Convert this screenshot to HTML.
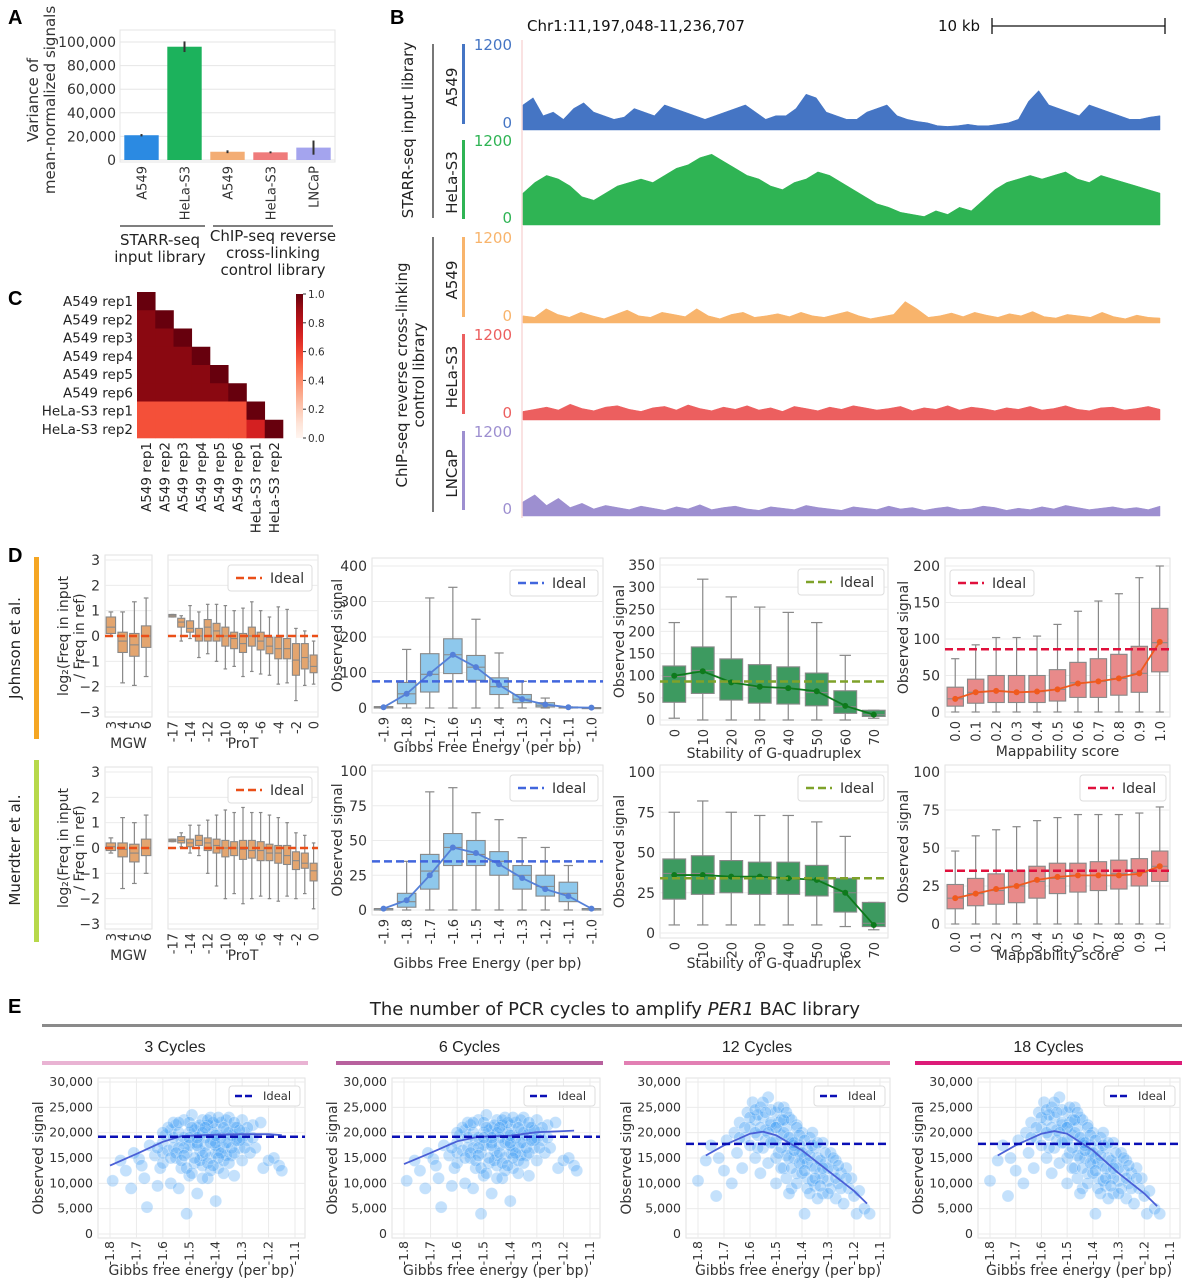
<!DOCTYPE html>
<html><head><meta charset="utf-8">
<style>
html,body{margin:0;padding:0;background:#fff;}
svg{display:block;font-family:"DejaVu Sans","Liberation Sans",sans-serif;}
</style></head>
<body>
<svg id="fig" width="1188" height="1280" viewBox="0 0 1188 1280" xmlns="http://www.w3.org/2000/svg"></svg>
<script>
// ---------- DATA ----------
// Panel A
const aCats = ["A549","HeLa-S3","A549","HeLa-S3","LNCaP"];
const aVals = [21000,96000,7000,6500,10500];
const aErr = [1000,4500,1200,800,6000];
const aTicks = [0,20000,40000,60000,80000,100000];
const aTickLabels = ["0","20,000","40,000","60,000","80,000","100,000"];
// Panel B
const trkBlue = [350,450,200,250,150,300,380,250,200,150,180,300,250,200,350,300,250,200,150,200,250,300,350,250,150,200,200,300,500,450,250,200,150,150,250,300,350,200,150,120,100,60,50,60,80,60,60,80,100,150,400,550,350,300,250,200,350,300,250,200,150,150,180,200];
const trkGreen = [450,600,700,650,550,400,350,450,550,600,650,600,700,800,850,950,1000,900,800,700,650,550,500,600,650,750,700,600,500,400,300,250,180,150,120,200,150,250,200,350,500,600,650,700,650,700,750,650,600,700,650,600,550,500,450];
const trkOrange = [100,80,200,120,80,150,100,60,120,180,100,80,150,120,90,200,100,60,120,150,80,100,130,90,150,100,80,120,160,100,60,90,120,300,200,80,100,140,90,150,110,80,130,100,160,90,70,120,100,80,150,90,60,110,80,70];
const trkRed = [120,150,180,140,220,160,130,180,200,150,120,170,190,140,210,160,130,180,150,200,140,170,120,190,160,130,180,150,200,170,140,160,190,130,170,150,200,140,180,160,130,170,150,190,140,160,200,150,130,170,180,140,160,190,150];
const trkPurple = [200,300,150,250,120,180,100,150,120,90,140,110,80,130,100,160,90,120,140,100,80,130,110,90,150,120,100,80,130,110,90,140,100,120,80,110,130,90,100,140,120,80,110,90,130,100,150,120,90,110,130,100,120,90,140];
// Panel C
const hmLabels = ["A549 rep1","A549 rep2","A549 rep3","A549 rep4","A549 rep5","A549 rep6","HeLa-S3 rep1","HeLa-S3 rep2"];
const hmA549 = 0.93, hmCross = 0.57, hmHela = 0.72;
// Panel D - row 1
const mgw1 = {q1:[0.1,-0.65,-0.8,-0.45],med:[0.35,-0.2,-0.35,0],q3:[0.75,0.15,0.1,0.4],lo:[0,-1.85,-1.95,-1.6],hi:[0.95,0.95,1.35,1.5]};
const prot1 = {q1:[0.75,0.35,0.15,-0.2,-0.2,-0.2,-0.4,-0.5,-0.65,-0.4,-0.55,-0.7,-0.9,-0.9,-1.55,-1.3,-1.45],med:[0.8,0.55,0.3,0,0.35,0.2,0,-0.1,-0.3,0,-0.2,-0.4,-0.5,-0.5,-0.95,-0.85,-1.2],q3:[0.85,0.7,0.6,0.3,0.65,0.5,0.35,0.15,0.1,0.35,0.15,-0.05,-0.05,-0.1,-0.3,-0.3,-0.75],lo:[0.75,-0.2,-0.1,-0.85,-0.7,-1.0,-1.3,-1.2,-1.6,-1.4,-1.5,-1.55,-1.9,-1.85,-2.55,-1.95,-1.9],hi:[0.85,0.8,1.2,0.95,1.25,1.25,1.2,1.0,1.1,1.35,1.0,0.75,1.15,1.05,0.3,0.2,-0.2]};
const gibbs1 = {q1:[0,12,45,97,78,38,15,3,0,0],med:[2,40,95,150,115,60,25,8,2,1],q3:[4,72,153,195,148,85,38,15,3,1],lo:[0,0,0,0,0,0,0,0,0,0],hi:[4,165,310,340,250,155,75,28,3,1],mean:[2,40,97,150,115,65,25,10,2,1]};
const g4_1 = {q1:[40,60,45,38,36,32,15,8],med:[98,112,85,75,70,62,30,12],q3:[122,165,138,125,120,106,66,22],lo:[4,0,0,0,0,0,0,4],hi:[220,318,278,255,243,220,146,22],mean:[100,110,85,75,72,65,32,12]};
const map1 = {q1:[8,12,13,13,13,15,20,20,23,27,55],med:[18,27,29,27,28,31,40,42,46,53,95],q3:[34,45,50,50,50,58,68,73,79,90,142],lo:[0,0,0,0,0,0,0,0,0,0,0],hi:[73,92,102,102,104,120,138,152,162,184,200],mean:[18,27,29,27,28,31,39,42,46,53,96]};
// Panel D - row 2
const mgw2 = {q1:[-0.1,-0.35,-0.55,-0.3],med:[0.05,-0.05,-0.2,0],q3:[0.2,0.2,0.15,0.35],lo:[-0.2,-1.6,-1.4,-1.0],hi:[0.4,1.2,1.0,1.3]};
const prot2 = {q1:[0.25,0.2,0.05,0.1,-0.1,-0.2,-0.35,-0.3,-0.45,-0.4,-0.5,-0.5,-0.6,-0.65,-0.85,-0.8,-1.3],med:[0.3,0.3,0.2,0.3,0.2,0.1,0,0,-0.05,-0.1,-0.1,-0.2,-0.2,-0.3,-0.5,-0.6,-0.9],q3:[0.35,0.45,0.35,0.5,0.4,0.35,0.3,0.25,0.3,0.3,0.25,0.15,0.1,0.1,-0.15,-0.2,-0.6],lo:[0.25,0.05,-0.2,-0.3,-1.0,-1.5,-2.0,-1.8,-2.2,-2.0,-1.9,-2.0,-2.1,-1.9,-2.0,-1.8,-2.4],hi:[0.35,0.6,0.9,0.9,1.1,1.3,1.5,1.4,1.6,1.4,1.4,1.3,1.2,1.0,0.6,0.5,0.2]};
const gibbs2 = {q1:[0,2,15,32,32,25,15,10,6,0],med:[1,6,28,45,40,35,25,17,12,1],q3:[1,12,40,55,50,42,32,25,20,1],lo:[0,0,0,0,0,0,0,0,0,0],hi:[1,35,85,88,70,65,52,45,32,1],mean:[1,7,25,45,41,33,23,15,10,1]};
const g4_2 = {q1:[21,24,25,24,24,23,13,4],med:[37,37,35,35,34,33,25,6],q3:[46,48,45,44,44,42,34,19],lo:[5,5,5,5,5,5,4,2],hi:[75,82,75,73,73,69,60,19],mean:[36,36,35,35,34,33,25,5]};
const map2 = {q1:[10,12,13,14,17,20,21,22,23,25,28],med:[17,20,22,25,28,30,32,32,33,34,38],q3:[26,30,33,35,38,40,40,41,42,43,48],lo:[0,0,0,0,0,0,0,0,0,0,0],hi:[48,58,62,64,68,70,72,72,72,73,77],mean:[17,20,23,25,29,31,32,32,32,33,38]};
const mgwCats = ["3","4","5","6"];
const protCats = ["-17","","-14","","-12","","-10","","-8","","-6","","-4","","-2","","0"];
const gibbsCats = ["-1.9","-1.8","-1.7","-1.6","-1.5","-1.4","-1.3","-1.2","-1.1","-1.0"];
const g4Cats = ["0","10","20","30","40","50","60","70"];
const mapCats = ["0.0","0.1","0.2","0.3","0.4","0.5","0.6","0.7","0.8","0.9","1.0"];
const idealRow1 = {prot:0, gibbs:75, g4:87, map:86};
const idealRow2 = {prot:0, gibbs:35, g4:34, map:35};
// Panel E
const scAx = [-1.79,-1.76,-1.74,-1.72,-1.71,-1.69,-1.68,-1.67,-1.66,-1.65,-1.63,-1.62,-1.61,-1.6,-1.6,-1.59,-1.58,-1.57,-1.57,-1.56,-1.55,-1.55,-1.54,-1.53,-1.53,-1.52,-1.51,-1.51,-1.5,-1.5,-1.49,-1.49,-1.48,-1.47,-1.47,-1.46,-1.46,-1.45,-1.45,-1.44,-1.43,-1.43,-1.42,-1.42,-1.41,-1.4,-1.4,-1.4,-1.39,-1.39,-1.38,-1.37,-1.37,-1.36,-1.35,-1.35,-1.34,-1.33,-1.33,-1.32,-1.31,-1.3,-1.3,-1.29,-1.28,-1.27,-1.26,-1.25,-1.23,-1.22,-1.2,-1.18,-1.16,-1.15,-1.52,-1.48,-1.44,-1.41,-1.38,-1.34,-1.46,-1.42,-1.36,-1.5,-1.56,-1.54,-1.47,-1.43,-1.39,-1.35,-1.31,-1.45,-1.4,
 -1.58,-1.56,-1.54,-1.52,-1.5,-1.48,-1.46,-1.44,-1.42,-1.4,-1.38,-1.36,-1.34,-1.32,-1.3,-1.28,-1.26,-1.55,-1.53,-1.51,-1.49,-1.47,-1.45,-1.43,-1.41,-1.39,-1.37,-1.35,-1.33,-1.31,-1.6,-1.62,-1.57,-1.45,-1.41,-1.37,-1.49,-1.43,-1.39,-1.33,-1.52,-1.47,-1.44,-1.4,-1.36,-1.32,-1.29,-1.54,-1.6,-1.5];
const scAy = [10.5,14.5,12.5,9,16,14.8,13.5,11,5.3,17.5,15.5,9.5,13,18,14,19.5,16.5,10,20.5,17,15,21.5,9,18.5,13,22.5,4,16,20,11.5,23.5,18,14,21,8,16.5,19.5,13.5,22.5,17.5,20.5,11,15,23,18.5,21.5,6.5,16,13,19.5,22,17,14.5,20.5,18,23,15.5,21,11.5,19,17,22.5,14.5,20,18.5,16,21.5,17,22,13,14.5,15,13.5,12.5,19,20.5,19,20,19,19.5,14.5,12.5,15.5,17.5,19,17,18,21.5,16.5,20,18.5,15.5,17.5,
 21,22,20,17,22,15,21.5,16,18,18,16,22.5,17,21,19,21,19,16,14.5,13,12,17.5,20,14,22,15,21,14,16,20.5,16,17,15,11,13.5,12,21,22.5,23,22,15.5,19,21,19.5,18,18.5,17,22,20,19];
const scBx = [-1.8,-1.77,-1.75,-1.73,-1.72,-1.7,-1.69,-1.67,-1.66,-1.65,-1.64,-1.63,-1.62,-1.61,-1.6,-1.6,-1.59,-1.58,-1.58,-1.57,-1.56,-1.56,-1.55,-1.55,-1.54,-1.53,-1.53,-1.52,-1.51,-1.5,-1.5,-1.49,-1.49,-1.48,-1.47,-1.47,-1.46,-1.45,-1.45,-1.44,-1.44,-1.43,-1.42,-1.42,-1.41,-1.4,-1.4,-1.39,-1.38,-1.38,-1.37,-1.36,-1.35,-1.35,-1.34,-1.33,-1.32,-1.32,-1.31,-1.3,-1.29,-1.28,-1.27,-1.27,-1.26,-1.25,-1.24,-1.23,-1.22,-1.21,-1.2,-1.19,-1.18,-1.16,-1.14,-1.52,-1.48,-1.44,-1.54,-1.46,-1.41,-1.36,-1.5,-1.57,-1.43,-1.39,
 -1.6,-1.58,-1.56,-1.55,-1.54,-1.52,-1.5,-1.49,-1.47,-1.46,-1.45,-1.44,-1.43,-1.42,-1.41,-1.4,-1.39,-1.38,-1.37,-1.36,-1.35,-1.34,-1.33,-1.32,-1.31,-1.3,-1.29,-1.28,-1.27,-1.26,-1.5,-1.48,-1.46,-1.44,-1.42,-1.4,-1.38,-1.36,-1.34,-1.32,-1.48,-1.45,-1.43,-1.41,-1.39,-1.37,-1.35,-1.3,-1.57,-1.53,-1.52,-1.62,-1.64,-1.58,-1.5,-1.47,-1.33,-1.25,-1.23,-1.45];
const scBy = [10.5,14.5,17.5,7.5,15,12.5,18.5,10,20,16,22,13,19,24,17.5,21,26,15,22.5,19.5,25,12,23,17,20.5,27,14,21.5,18,24,10,22,16,19.5,25,13,21,17,23,9,19,15,21.5,12,17.5,20,14,4,16.5,11,19,13.5,17,9.5,15,12,18,8,14,10.5,16,12.5,7,14.5,10,12,6,13,9,11,7.5,4,8.5,5,4,24.5,22.5,18,18.5,15.5,16,20,21,23.5,17.5,15,
 23,24.5,21,26,24,22,21,25,20,24,19,22.5,18,21,19.5,16,18.5,14,15.5,17.5,13,18,14.5,11,16,13,9,15,11,13.5,15,13,11,13,10,12,9,10.5,7,13,17,15,16.5,14,12.5,8,11,8,17,20,18,21,19,20,18.5,22.5,9.5,9,11,8];
const trendX1 = [-1.8,-1.7,-1.6,-1.53,-1.4,-1.3,-1.2,-1.15];
const trendY1 = [13.5,15.8,18.2,19.3,19.6,19.7,19.7,19.5];
const trendX2 = [-1.8,-1.7,-1.6,-1.52,-1.4,-1.3,-1.2,-1.16];
const trendY2 = [13.8,16,18.3,19.2,19.4,20.1,20.3,20.4];
const trendX3 = [-1.77,-1.7,-1.6,-1.55,-1.5,-1.4,-1.3,-1.2,-1.15];
const trendY3 = [15.5,17.5,19.8,20.2,19.5,16.5,12.5,8.5,6];
const trendY4 = [15.5,17.5,19.8,20.3,19.8,16.5,12,8,5.5];
const eIdeal = [19200,19200,17800,17800];
const eTicks = [0,5000,10000,15000,20000,25000,30000];
const eTickLabels = ["0","5,000","10,000","15,000","20,000","25,000","30,000"];
const eXTicks = [-1.8,-1.7,-1.6,-1.5,-1.4,-1.3,-1.2,-1.1];

// ---------- HELPERS ----------
const NS = "http://www.w3.org/2000/svg";
const svg = document.getElementById('fig');
function mk(tag, attrs, parent){const e=document.createElementNS(NS,tag);for(const k in attrs)e.setAttribute(k,attrs[k]);(parent||svg).appendChild(e);return e;}
function lin(d0,d1,r0,r1){return v=>r0+(v-d0)/(d1-d0)*(r1-r0);}
function T(str,x,y,o,parent){o=o||{};const a={x:x,y:y,'font-size':o.fs||13,fill:o.fill||'#333','text-anchor':o.anchor||'start','dominant-baseline':o.base||'auto'};
 if(o.rot!==undefined)a.transform='rotate('+o.rot+' '+x+' '+y+')';
 if(o.weight)a['font-weight']=o.weight; if(o.family)a['font-family']=o.family; if(o.style)a['font-style']=o.style;
 const e=mk('text',a,parent);e.textContent=str;return e;}
function grp(name){const g=mk('g',{});return g;}

// Panel letters
[["A",8,24],["B",390,24],["C",8,305],["D",8,562],["E",8,1013]].forEach(p=>{
 const t=T(p[0],p[1],p[2],{fs:20,weight:'bold',fill:'#000',family:'Liberation Sans'});
 });

// ---------- PANEL A ----------
(function(){
 const g=grp('panel-a-bar-chart');
 const x0=120,x1=335,yS=lin(0,100000,160,42);
 mk('rect',{x:x0,y:30,width:x1-x0,height:132,fill:'none',stroke:'#e4e4e4'},g);
 aTicks.forEach((t,i)=>{mk('line',{x1:x0,x2:x1,y1:yS(t),y2:yS(t),stroke:'#e6e6e6'},g);
   T(aTickLabels[i],x0-4,yS(t)+5,{fs:14,anchor:'end'},g);});
 const colors=['#2b8ae2','#1cb25c','#f3ad74','#ef7b7b','#a4a4ee'];
 const bw=(x1-x0)/aCats.length;
 aCats.forEach((c,i)=>{const cx=x0+bw*(i+0.5);
  const r=mk('rect',{x:cx-bw*0.4,y:yS(aVals[i]),width:bw*0.8,height:yS(0)-yS(aVals[i]),fill:colors[i]},g);
  
  mk('line',{x1:cx,x2:cx,y1:yS(aVals[i]-aErr[i]),y2:yS(aVals[i]+aErr[i]),stroke:'#333','stroke-width':2},g);
  T(c,cx+5,166,{fs:13,anchor:'end',rot:-90},g);});
 T('Variance of',38,100,{fs:15,anchor:'middle',rot:-90},g);
 T('mean-normalized signals',55,100,{fs:15,anchor:'middle',rot:-90},g);
 mk('line',{x1:120,x2:205,y1:226,y2:226,stroke:'#555','stroke-width':1.5},g);
 mk('line',{x1:213,x2:333,y1:226,y2:226,stroke:'#555','stroke-width':1.5},g);
 T('STARR-seq',160,245,{fs:15,anchor:'middle',fill:'#222'},g);T('input library',160,262,{fs:15,anchor:'middle',fill:'#222'},g);
 T('ChIP-seq reverse',273,241,{fs:15,anchor:'middle',fill:'#222'},g);T('cross-linking',273,258,{fs:15,anchor:'middle',fill:'#222'},g);T('control library',273,275,{fs:15,anchor:'middle',fill:'#222'},g);
})();

// ---------- PANEL B ----------
(function(){
 const g=grp('panel-b-genome-tracks');
 T('Chr1:11,197,048-11,236,707',527,31,{fs:15,fill:'#111'},g);
 T('10 kb',938,31,{fs:15,fill:'#111'},g);
 mk('line',{x1:992,x2:1165,y1:26,y2:26,stroke:'#111','stroke-width':1.3},g);
 mk('line',{x1:992,x2:992,y1:18,y2:34,stroke:'#111','stroke-width':1.3},g);
 mk('line',{x1:1165,x2:1165,y1:18,y2:34,stroke:'#111','stroke-width':1.3},g);
 mk('line',{x1:522,x2:522,y1:40,y2:518,stroke:'#f4c6c6'},g);
 const tracks=[['A549',trkBlue,'#4575c4',44,130],['HeLa-S3',trkGreen,'#2fb454',140,225],['A549',trkOrange,'#f8b46c',237,323],['HeLa-S3',trkRed,'#ec5f5f',334,420],['LNCaP',trkPurple,'#9d8fd0',431,516]];
 tracks.forEach((t,ti)=>{
  const [name,d,col,top,base]=t;const yS=lin(0,1200,base,top);const xS=lin(0,d.length-1,523,1160);
  let p='M523,'+base;d.forEach((v,i)=>{p+=' L'+xS(i).toFixed(1)+','+yS(v).toFixed(1);});p+=' L1160,'+base+' Z';
  const a=mk('path',{d:p,fill:col,stroke:col,'stroke-width':0.5},g);
  
  mk('rect',{x:462,y:top,width:3,height:base-top-6,fill:col},g);
  T('1200',512,top+6,{fs:15,fill:col,anchor:'end'},g);
  T('0',512,base-2,{fs:15,fill:col,anchor:'end'},g);
  T(name,457,(top+base)/2,{fs:15,anchor:'middle',rot:-90,fill:'#222'},g);
 });
 mk('line',{x1:433,x2:433,y1:44,y2:218,stroke:'#777','stroke-width':2},g);
 mk('line',{x1:433,x2:433,y1:237,y2:512,stroke:'#777','stroke-width':2},g);
 T('STARR-seq input library',413,130,{fs:15,anchor:'middle',rot:-90,fill:'#222'},g);
 T('ChIP-seq reverse cross-linking',407,375,{fs:15,anchor:'middle',rot:-90,fill:'#222'},g);
 T('control library',424,375,{fs:15,anchor:'middle',rot:-90,fill:'#222'},g);
})();

// ---------- PANEL C ----------
function reds(v){const st=[[0,'#fff5f0'],[0.125,'#fee0d2'],[0.25,'#fcbba1'],[0.375,'#fc9272'],[0.5,'#fb6a4a'],[0.625,'#ef3b2c'],[0.75,'#cb181d'],[0.875,'#a50f15'],[1,'#67000d']];
 v=Math.max(0,Math.min(1,v));for(let i=1;i<st.length;i++){if(v<=st[i][0]){const f=(v-st[i-1][0])/(st[i][0]-st[i-1][0]);const a=st[i-1][1],b=st[i][1];
 const c=k=>Math.round(parseInt(a.substr(k,2),16)*(1-f)+parseInt(b.substr(k,2),16)*f);return 'rgb('+c(1)+','+c(3)+','+c(5)+')';}}return st[8][1];}
(function(){
 const g=grp('panel-c-heatmap');
 const x0=137,y0=292,cs=18.25,n=hmLabels.length;
 for(let i=0;i<n;i++){for(let j=0;j<=i;j++){
  let v;if(i===j)v=1;else if(i<6)v=hmA549;else if(j<6)v=hmCross;else v=hmHela;
  const r=mk('rect',{x:x0+j*cs,y:y0+i*cs,width:cs+0.3,height:cs+0.3,fill:reds(v)},g);
  }
  T(hmLabels[i],133,y0+i*cs+cs/2+5,{fs:13.5,anchor:'end',fill:'#222'},g);
  T(hmLabels[i],x0+i*cs+cs/2+5,y0+n*cs+4,{fs:13.5,anchor:'end',rot:-90,fill:'#222'},g);}
 const def=mk('defs',{},g);const lg=mk('linearGradient',{id:'cbar',x1:0,y1:1,x2:0,y2:0},def);
 for(let k=0;k<=10;k++)mk('stop',{offset:k/10,'stop-color':reds(k/10)},lg);
 mk('rect',{x:296,y:294,width:7,height:144,fill:'url(#cbar)'},g);
 const cy=lin(0,1,438,294);
 [0,0.2,0.4,0.6,0.8,1.0].forEach(t=>{mk('line',{x1:303,x2:306,y1:cy(t),y2:cy(t),stroke:'#333'},g);T(t.toFixed(1),308,cy(t)+4,{fs:10.5},g);});
})();

// ---------- PANEL D ----------
function boxPanel(cfg){
 const g=grp(cfg.name);
 const yS=lin(cfg.dmin,cfg.dmax,cfg.py0,cfg.py1);
 mk('rect',{x:cfg.x0,y:cfg.fy0,width:cfg.x1-cfg.x0,height:cfg.fy1-cfg.fy0,fill:'none',stroke:'#e2e2e2'},g);
 cfg.ticks.forEach(t=>{mk('line',{x1:cfg.x0,x2:cfg.x1,y1:yS(t),y2:yS(t),stroke:'#ebebeb'},g);
  if(cfg.showY)T(cfg.tickFmt?cfg.tickFmt(t):String(t),cfg.x0-5,yS(t)+5,{fs:14,anchor:'end'},g);});
 const n=cfg.cats.length,bw=(cfg.x1-cfg.x0)/n;const d=cfg.data;
 for(let i=0;i<n;i++){const cx=cfg.x0+bw*(i+0.5),w=bw*0.8;
  mk('line',{x1:cx,x2:cx,y1:yS(d.hi[i]),y2:yS(d.q3[i]),stroke:'#888','stroke-width':1.2},g);
  mk('line',{x1:cx,x2:cx,y1:yS(d.q1[i]),y2:yS(d.lo[i]),stroke:'#888','stroke-width':1.2},g);
  mk('line',{x1:cx-w/4,x2:cx+w/4,y1:yS(d.hi[i]),y2:yS(d.hi[i]),stroke:'#888','stroke-width':1.2},g);
  mk('line',{x1:cx-w/4,x2:cx+w/4,y1:yS(d.lo[i]),y2:yS(d.lo[i]),stroke:'#888','stroke-width':1.2},g);
  const b=mk('rect',{x:cx-w/2,y:yS(d.q3[i]),width:w,height:Math.max(1,yS(d.q1[i])-yS(d.q3[i])),fill:cfg.fill,stroke:'#888','stroke-width':1.1},g);
  
  mk('line',{x1:cx-w/2,x2:cx+w/2,y1:yS(d.med[i]),y2:yS(d.med[i]),stroke:'#888','stroke-width':1.1},g);
  if(cfg.cats[i])T(cfg.cats[i],cx+5,cfg.fy1+4,{fs:cfg.xfs||13,anchor:'end',rot:-90},g);}
 if(d.mean){let p='';d.mean.forEach((v,i)=>{const cx=cfg.x0+bw*(i+0.5);p+=(i?' L':'M')+cx+','+yS(v);
   const c=mk('circle',{cx:cx,cy:yS(v),r:3,fill:cfg.meanCol},g);});
  mk('path',{d:p,fill:'none',stroke:cfg.meanCol,'stroke-width':1.8},g);}
 if(cfg.ideal!==undefined){mk('line',{x1:cfg.x0,x2:cfg.x1,y1:yS(cfg.ideal),y2:yS(cfg.ideal),stroke:cfg.idealCol,'stroke-width':2.5,'stroke-dasharray':'8,4'},g);}
 if(cfg.legend){const [lx,ly,lw]=cfg.legend;const lgd=mk('g',{},g);
  mk('rect',{x:lx,y:ly,width:lw,height:26,rx:3,fill:'#fff',stroke:'#ddd'},lgd);
  mk('line',{x1:lx+8,x2:lx+34,y1:ly+13,y2:ly+13,stroke:cfg.idealCol,'stroke-width':2.5,'stroke-dasharray':'8,4'},lgd);
  T('Ideal',lx+42,ly+18,{fs:14},lgd);}
 if(cfg.xlabel)T(cfg.xlabel,(cfg.x0+cfg.x1)/2,cfg.xly,{fs:14,anchor:'middle'},g);
 if(cfg.ylabel)T(cfg.ylabel,cfg.ylx,(cfg.fy0+cfg.fy1)/2,{fs:14,anchor:'middle',rot:-90},g);
}
const mgwTicks=[-3,-2,-1,0,1,2,3];
const fmtNeg=t=>t<0?'\u2212'+Math.abs(t):String(t);
function dRow(r){
 const R=r===1;const D=R?{mgw:mgw1,prot:prot1,gibbs:gibbs1,g4:g4_1,map:map1,id:idealRow1}:{mgw:mgw2,prot:prot2,gibbs:gibbs2,g4:g4_2,map:map2,id:idealRow2};
 const off=R?0:212;
 boxPanel({name:'mgw-boxplot-row'+r,x0:105,x1:152,fy0:555+off,fy1:717+off,py0:712+off,py1:560+off,dmin:-3,dmax:3,ticks:mgwTicks,showY:true,tickFmt:fmtNeg,cats:mgwCats,data:D.mgw,fill:'#e3a56f',ideal:D.id.prot,idealCol:'#ea4f18',xlabel:'MGW',xly:748+off});
 boxPanel({name:'prot-boxplot-row'+r,x0:168,x1:318,fy0:555+off,fy1:717+off,py0:712+off,py1:560+off,dmin:-3,dmax:3,ticks:mgwTicks,showY:false,cats:protCats,data:D.prot,fill:'#e3a56f',ideal:D.id.prot,idealCol:'#ea4f18',legend:[228,565+off,84],xlabel:'ProT',xly:748+off});
 T('log\u2082(Freq in input',68,636+off,{fs:14,anchor:'middle',rot:-90},svg);
 T('/ Freq in ref)',84,636+off,{fs:14,anchor:'middle',rot:-90},svg);
 if(R){boxPanel({name:'gibbs-boxplot-row1',x0:372,x1:603,fy0:558,fy1:713,py0:708,py1:566,dmin:0,dmax:400,ticks:[0,100,200,300,400],showY:true,cats:gibbsCats,data:D.gibbs,fill:'#8ec8ec',meanCol:'#5580d8',ideal:D.id.gibbs,idealCol:'#4166dd',legend:[510,570,88],xlabel:'Gibbs Free Energy (per bp)',xly:752,ylabel:'Observed signal',ylx:342});
  boxPanel({name:'g4-boxplot-row1',x0:660,x1:888,fy0:558,fy1:725,py0:720,py1:565,dmin:0,dmax:350,ticks:[0,50,100,150,200,250,300,350],showY:true,cats:g4Cats,data:D.g4,fill:'#3d9a60',meanCol:'#0e7a1c',ideal:D.id.g4,idealCol:'#7fa22a',legend:[798,569,86],xlabel:'Stability of G-quadruplex',xly:758,ylabel:'Observed signal',ylx:624});
  boxPanel({name:'mappability-boxplot-row1',x0:945,x1:1170,fy0:558,fy1:717,py0:712,py1:566,dmin:0,dmax:200,ticks:[0,50,100,150,200],showY:true,cats:mapCats,data:D.map,fill:'#e88a8a',meanCol:'#f05a1e',ideal:D.id.map,idealCol:'#e0103c',legend:[950,570,84],xlabel:'Mappability score',xly:756,ylabel:'Observed signal',ylx:908});}
 else{boxPanel({name:'gibbs-boxplot-row2',x0:372,x1:603,fy0:765,fy1:915,py0:910,py1:771,dmin:0,dmax:100,ticks:[0,25,50,75,100],showY:true,cats:gibbsCats,data:D.gibbs,fill:'#8ec8ec',meanCol:'#5580d8',ideal:D.id.gibbs,idealCol:'#4166dd',legend:[510,775,88],xlabel:'Gibbs Free Energy (per bp)',xly:968,ylabel:'Observed signal',ylx:342});
  boxPanel({name:'g4-boxplot-row2',x0:660,x1:888,fy0:765,fy1:938,py0:933,py1:772,dmin:0,dmax:100,ticks:[0,25,50,75,100],showY:true,cats:g4Cats,data:D.g4,fill:'#3d9a60',meanCol:'#0e7a1c',ideal:D.id.g4,idealCol:'#7fa22a',legend:[798,775,86],xlabel:'Stability of G-quadruplex',xly:968,ylabel:'Observed signal',ylx:624});
  boxPanel({name:'mappability-boxplot-row2',x0:945,x1:1170,fy0:765,fy1:928,py0:924,py1:772,dmin:0,dmax:100,ticks:[0,25,50,75,100],showY:true,cats:mapCats,data:D.map,fill:'#e88a8a',meanCol:'#f05a1e',ideal:D.id.map,idealCol:'#e0103c',legend:[1080,775,86],xlabel:'Mappability score',xly:960,ylabel:'Observed signal',ylx:908});}
}
dRow(1);dRow(2);
mk('rect',{x:34,y:557,width:5,height:182,fill:'#f5a623'});
mk('rect',{x:34,y:760,width:5,height:182,fill:'#b7d84a'});
T('Johnson et al.',20,648,{fs:15,anchor:'middle',rot:-90,fill:'#222'});
T('Muerdter et al.',20,850,{fs:15,anchor:'middle',rot:-90,fill:'#222'});

// ---------- PANEL E ----------
(function(){
 const t=mk('text',{x:615,y:1015,'font-size':18,fill:'#222','text-anchor':'middle'});
 
 const s1=mk('tspan',{},t);s1.textContent='The number of PCR cycles to amplify ';
 const s2=mk('tspan',{'font-style':'italic'},t);s2.textContent='PER1';
 const s3=mk('tspan',{},t);s3.textContent=' BAC library';
 mk('rect',{x:42,y:1024,width:1140,height:3,fill:'#8a8a8a'});
 const plots=[{t:'3 Cycles',hx0:42,hx1:308,c:'#e9b3d3',fx0:98,fx1:305,x:scAx,y:scAy,tx:trendX1,ty:trendY1},
  {t:'6 Cycles',hx0:336,hx1:603,c:'#b8619e',fx0:392,fx1:600,x:scAx,y:scAy,tx:trendX2,ty:trendY2},
  {t:'12 Cycles',hx0:624,hx1:890,c:'#e27fb3',fx0:686,fx1:890,x:scBx,y:scBy,tx:trendX3,ty:trendY3},
  {t:'18 Cycles',hx0:915,hx1:1182,c:'#dc1b78',fx0:978,fx1:1180,x:scBx,y:scBy,tx:trendX3,ty:trendY4}];
 plots.forEach((p,pi)=>{
  const g=grp('scatter-'+p.t.replace(' ','-').toLowerCase());
  T(p.t,(p.hx0+p.hx1)/2,1052,{fs:16,anchor:'middle',fill:'#222',family:'Liberation Sans'},g);
  mk('rect',{x:p.hx0,y:1061,width:p.hx1-p.hx0,height:4,fill:p.c},g);
  const w=p.fx1-p.fx0;const xS=lin(-1.8,-1.1,p.fx0+12,p.fx1-10);const yS=lin(0,30000,1234,1082);
  mk('rect',{x:p.fx0,y:1078,width:w,height:160,fill:'none',stroke:'#e2e2e2'},g);
  eTicks.forEach((t,i)=>{mk('line',{x1:p.fx0,x2:p.fx1,y1:yS(t),y2:yS(t),stroke:'#ebebeb'},g);T(eTickLabels[i],p.fx0-5,yS(t)+4,{fs:12.5,anchor:'end'},g);});
  eXTicks.forEach(t=>{mk('line',{x1:xS(t),x2:xS(t),y1:1078,y2:1238,stroke:'#ebebeb'},g);T(t.toFixed(1),xS(t)+4,1241,{fs:12.5,anchor:'end',rot:-90},g);});
  p.x.forEach((xv,i)=>{const c=mk('circle',{cx:xS(xv),cy:yS(p.y[i]*1000),r:6,fill:'#3d9af5','fill-opacity':0.3,stroke:'#fff','stroke-opacity':0.4,'stroke-width':0.6},g);
   });
  let d='';p.tx.forEach((xv,i)=>{d+=(i?' L':'M')+xS(xv).toFixed(1)+','+yS(p.ty[i]*1000).toFixed(1);});
  mk('path',{d:d,fill:'none',stroke:'#4a5fd6','stroke-width':1.8},g);
  mk('line',{x1:p.fx0,x2:p.fx1,y1:yS(eIdeal[pi]),y2:yS(eIdeal[pi]),stroke:'#0a0fb5','stroke-width':2.5,'stroke-dasharray':'8,4'},g);
  const lg=mk('g',{},g);
  mk('rect',{x:p.fx1-76,y:1086,width:71,height:20,rx:3,fill:'#fff',stroke:'#ddd'},lg);
  mk('line',{x1:p.fx1-70,x2:p.fx1-50,y1:1096,y2:1096,stroke:'#0a0fb5','stroke-width':2.5,'stroke-dasharray':'7,3'},lg);
  T('Ideal',p.fx1-42,1100,{fs:11.5},lg);
  T('Gibbs free energy (per bp)',(p.fx0+p.fx1)/2,1275,{fs:14,anchor:'middle'},g);
  T('Observed signal',p.fx0-55,1158,{fs:14,anchor:'middle',rot:-90},g);
 });
})();
</script>
</body></html>
